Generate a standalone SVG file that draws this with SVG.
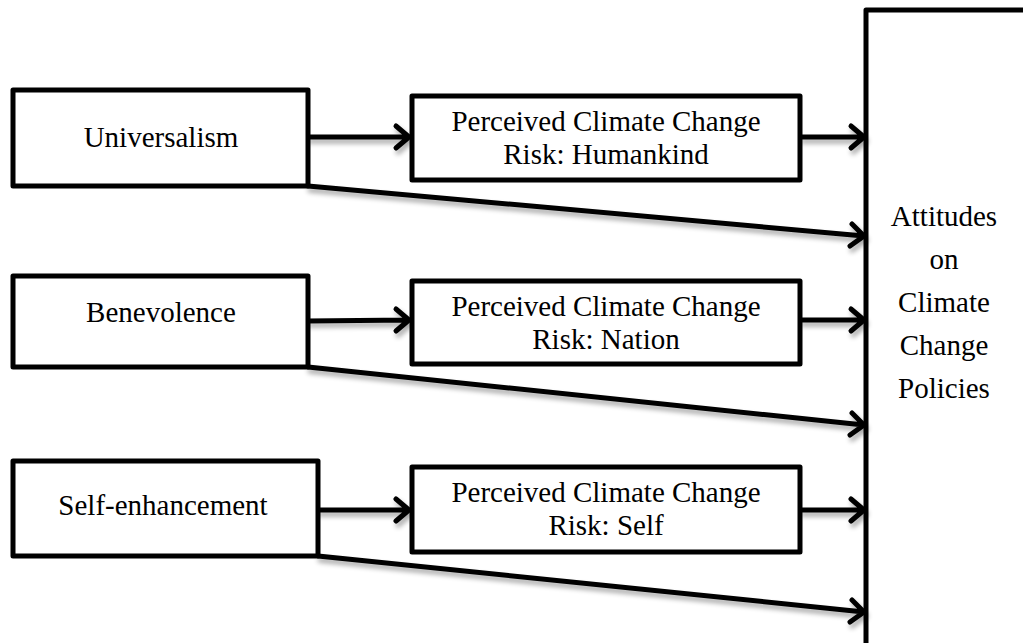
<svg xmlns="http://www.w3.org/2000/svg" width="1023" height="643" viewBox="0 0 1023 643">
<style>
.box{fill:#fff;stroke:#000;stroke-width:5;stroke-linejoin:round}
.t{font-family:"Liberation Serif","Times New Roman",serif;font-size:29px;fill:#000;text-anchor:middle}
.c{fill:none;stroke:#000;stroke-width:5;stroke-linecap:round;stroke-linejoin:round}
</style>
<defs>
<filter id="sh" x="-10%" y="-50%" width="120%" height="200%">
<feGaussianBlur in="SourceAlpha" stdDeviation="2.5"/>
<feOffset dx="2" dy="4" result="b"/>
<feComponentTransfer><feFuncA type="linear" slope="0.35"/></feComponentTransfer>
<feMerge><feMergeNode/><feMergeNode in="SourceGraphic"/></feMerge>
</filter>
</defs>
<rect width="1023" height="643" fill="#fff"/>
<g id="attitudes">
<rect class="box" x="866" y="10" width="170" height="650"/>
<text class="t" x="944" y="226">Attitudes</text>
<text class="t" x="944" y="269">on</text>
<text class="t" x="944" y="312">Climate</text>
<text class="t" x="944" y="355">Change</text>
<text class="t" x="944" y="398">Policies</text>
</g>
<g id="connectors" filter="url(#sh)">
<path class="c" d="M308,137 L409,137 M396,126 L409,137 L396,148"/>
<path class="c" d="M801,137 L864,137 M851,126 L864,137 L851,148"/>
<path class="c" d="M308,186 L864,236 M852,224 L864,236 L850,246"/>
<path class="c" d="M308,321 L409,320 M396,309 L409,320 L396,331"/>
<path class="c" d="M801,320 L864,320 M851,309 L864,320 L851,331"/>
<path class="c" d="M308,367 L864,425 M852,413 L864,425 L850,435"/>
<path class="c" d="M318,510 L409,510 M396,499 L409,510 L396,521"/>
<path class="c" d="M801,510 L864,510 M851,499 L864,510 L851,521"/>
<path class="c" d="M318,556 L864,612 M852,600 L864,612 L850,622"/>
</g>
<g id="universalism">
<rect class="box" x="13" y="90" width="295" height="96"/>
<text class="t" x="161" y="147">Universalism</text>
</g>
<g id="benevolence">
<rect class="box" x="13" y="276" width="295" height="91"/>
<text class="t" x="161" y="322">Benevolence</text>
</g>
<g id="selfenhancement">
<rect class="box" x="13" y="461" width="305" height="95"/>
<text class="t" x="163" y="515">Self-enhancement</text>
</g>
<g id="risk_humankind">
<rect class="box" x="412" y="96" width="388" height="84"/>
<text class="t" x="606" y="131">Perceived Climate Change</text>
<text class="t" x="606" y="164">Risk: Humankind</text>
</g>
<g id="risk_nation">
<rect class="box" x="412" y="281" width="388" height="83"/>
<text class="t" x="606" y="316">Perceived Climate Change</text>
<text class="t" x="606" y="349">Risk: Nation</text>
</g>
<g id="risk_self">
<rect class="box" x="412" y="467" width="388" height="85"/>
<text class="t" x="606" y="502">Perceived Climate Change</text>
<text class="t" x="606" y="535">Risk: Self</text>
</g>
</svg>
